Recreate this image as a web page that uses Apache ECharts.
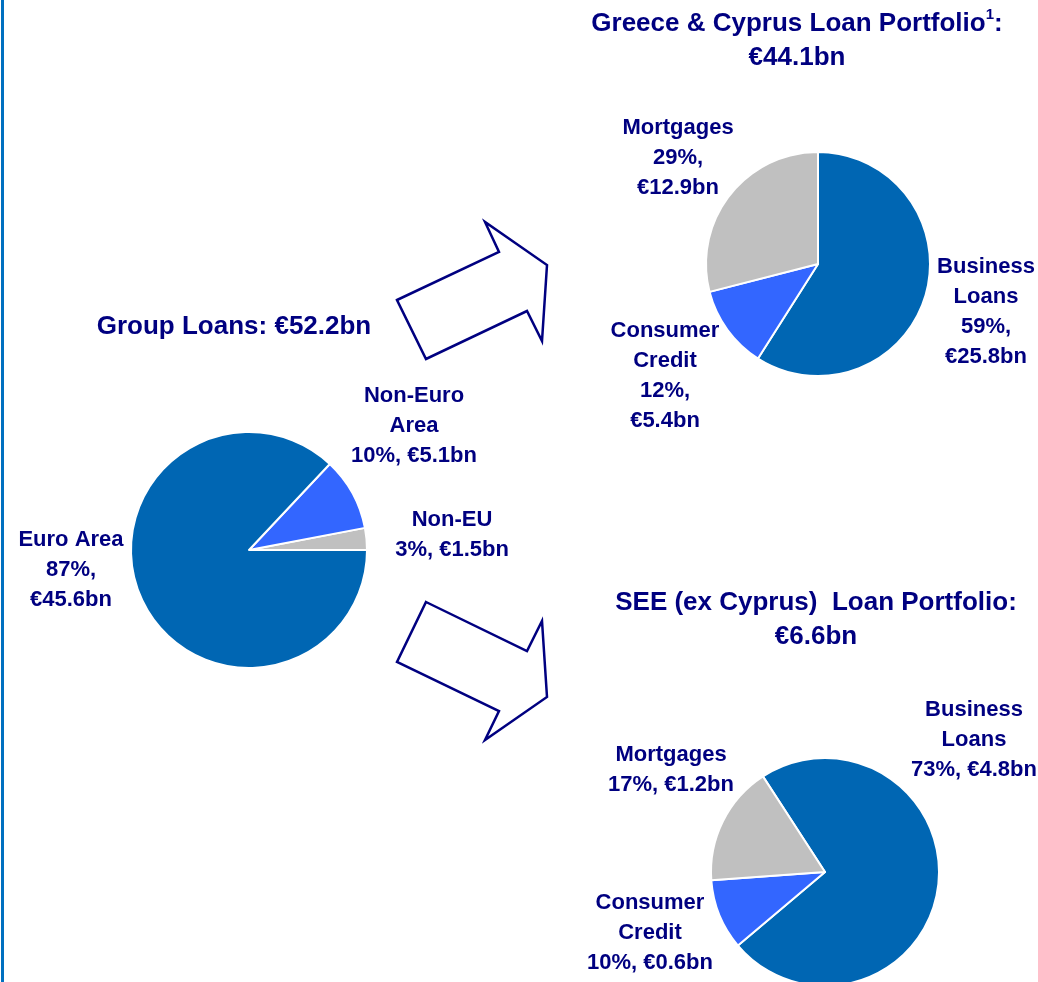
<!DOCTYPE html>
<html lang="en">
<head>
<meta charset="UTF-8">
<title>Loan Portfolio</title>
<script src="https://cdn.jsdelivr.net/npm/echarts@6/dist/echarts.min.js"></script>
<style>html,body{margin:0;padding:0;background:#fff;}</style>
</head>
<body>
<div id="main" style="width:1038px;height:982px;"></div>
<script type="text/javascript">

    // Group loans by area
    let groupNames = ['Non-EU', 'Non-Euro\nArea', 'Euro Area'];
    let groupPct = [3, 10, 87];
    let groupBn = [1.5, 5.1, 45.6];

    // Greece & Cyprus loan portfolio
    let grNames = ['Business\nLoans', 'Consumer\nCredit', 'Mortgages'];
    let grPct = [59, 12, 29];
    let grBn = [25.8, 5.4, 12.9];

    // SEE (ex Cyprus) loan portfolio
    let seeNames = ['Business\nLoans', 'Consumer\nCredit', 'Mortgages'];
    let seePct = [73, 10, 17];
    let seeBn = [4.8, 0.6, 1.2];

    let navy = '#000080';
    let dark = '#0066b3', bright = '#3366ff', grey = '#c0c0c0';
    let font = '"Liberation Sans", Arial, sans-serif';

    function makePie(names, pct, bn, seps, colors, center, radius, startAngle, clockwise, labelPos) {
        return {
            type: 'pie',
            center: center,
            radius: radius,
            startAngle: startAngle,
            clockwise: clockwise,
            avoidLabelOverlap: false,
            silent: true,
            itemStyle: {borderColor: '#fff', borderWidth: 2},
            labelLine: {show: false},
            label: {
                show: true,
                position: 'outside',
                color: navy,
                fontFamily: font,
                fontWeight: 'bold',
                fontSize: 22,
                lineHeight: 30,
                align: 'center',
                formatter: function (p) {
                    let i = p.dataIndex;
                    return names[i] + '\n' + pct[i] + '%' + seps[i] + '€' + bn[i].toFixed(1) + 'bn';
                }
            },
            labelLayout: function (params) {
                let pos = labelPos[params.dataIndex];
                return {x: pos[0], y: pos[1], align: 'center', verticalAlign: 'middle'};
            },
            data: names.map((n, i) => ({name: n, value: pct[i], itemStyle: {color: colors[i]}}))
        };
    }

    option = {
        backgroundColor: '#fff',
        animation: false,
        series: [
            makePie(groupNames, groupPct, groupBn, [', ', ', ', ',\n'], [grey, bright, dark],
                [249, 550], 118, 0, false, [[452, 535], [414, 426], [71, 570]]),
            makePie(grNames, grPct, grBn, [',\n', ',\n', ',\n'], [dark, bright, grey],
                [818, 264], 112, 90, true, [[986, 312], [665, 376], [678, 158]]),
            makePie(seeNames, seePct, seeBn, [', ', ', ', ', '], [dark, bright, grey],
                [825, 872], 114, 123, true, [[974, 740], [650, 933], [671, 770]])
        ],
        graphic: [
            {
                type: 'line',
                shape: {x1: 2.5, y1: 0, x2: 2.5, y2: 982},
                style: {stroke: '#0070c0', lineWidth: 3}
            },
            {
                type: 'polygon',
                shape: {points: [[397, 300], [499, 252], [485, 222], [547, 265], [542, 341], [527, 311], [426, 359]]},
                style: {fill: '#fff', stroke: navy, lineWidth: 2.5}
            },
            {
                type: 'polygon',
                shape: {points: [[426, 602], [527, 651], [542, 621], [547, 697], [485, 740], [499, 711], [397, 662]]},
                style: {fill: '#fff', stroke: navy, lineWidth: 2.5}
            },
            {
                type: 'text',
                x: 234, y: 327,
                style: {
                    text: 'Group Loans: €52.2bn',
                    fill: navy, font: 'bold 26px ' + font,
                    textAlign: 'center', textVerticalAlign: 'middle'
                }
            },
            {
                type: 'text',
                x: 797, y: 41,
                style: {
                    text: 'Greece & Cyprus Loan Portfolio{sup|1}:\n€44.1bn',
                    fill: navy, font: 'bold 26px ' + font, lineHeight: 34,
                    textAlign: 'center', textVerticalAlign: 'middle',
                    rich: {
                        sup: {fontSize: 15, fontWeight: 'bold', fontFamily: font, fill: navy, verticalAlign: 'top', lineHeight: 32}
                    }
                }
            },
            {
                type: 'text',
                x: 816, y: 620,
                style: {
                    text: 'SEE (ex Cyprus)  Loan Portfolio:\n€6.6bn',
                    fill: navy, font: 'bold 26px ' + font, lineHeight: 34,
                    textAlign: 'center', textVerticalAlign: 'middle'
                }
            }
        ]
    };

    let myChart = echarts.init(document.getElementById('main'));
    myChart.setOption(option);
</script>
</body>
</html>
